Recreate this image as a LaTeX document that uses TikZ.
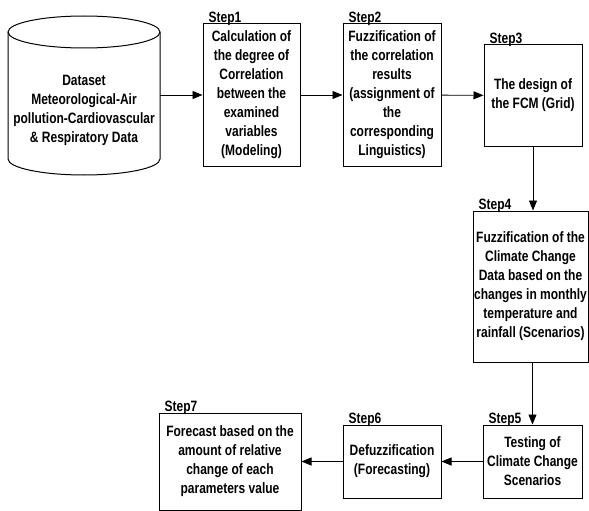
\documentclass[tikz,border=0pt]{standalone}
\usepackage{fontspec}
\setmainfont{Liberation Sans}[FakeStretch=0.8]
\usetikzlibrary{arrows.meta}
\begin{document}
\begin{tikzpicture}[x=1pt, y=-1pt,
    every node/.style={font=\bfseries\fontsize{15}{19}\selectfont},
    stepbox/.style={draw, line width=1pt, align=center, inner sep=0pt},
    steplabel/.style={anchor=south west, inner sep=0pt},
    flow/.style={line width=0.9pt, -{Triangle[length=10pt,width=8pt]}}]
  \useasboundingbox (0,0) rectangle (589,511);
  % Datenbasis (Zylinder)
  \draw[line width=1pt] (8,32) -- (8,159)
    arc[start angle=180, end angle=0, x radius=76, y radius=16] -- (160,32);
  \draw[line width=1pt] (84,32) ellipse[x radius=76, y radius=16];
  \node[align=center, inner sep=0pt, minimum width=152pt] (data) at (84,110)
        {Dataset\\Meteorological-Air\\pollution-Cardiovascular\\\& Respiratory Data};
  % Schritte
  \node[stepbox, minimum width=97pt, minimum height=142pt] (s1) at (251.5,95)
        {Calculation of\\the degree of\\Correlation\\between the\\examined\\variables\\(Modeling)};
  \node[stepbox, minimum width=98pt, minimum height=142pt] (s2) at (392,95)
        {Fuzzification of\\the correlation\\results\\(assignment of\\the\\corresponding\\Linguistics)};
  \node[stepbox, minimum width=98pt, minimum height=101pt] (s3) at (533,95.5)
        {The design of\\the FCM (Grid)};
  \node[stepbox, minimum width=115pt, minimum height=151pt] (s4) at (530.5,286.5)
        {Fuzzification of the\\Climate Change\\Data based on the\\changes in monthly\\temperature and\\rainfall (Scenarios)};
  \node[stepbox, minimum width=99pt, minimum height=73pt] (s5) at (532.5,461.5)
        {Testing of\\Climate Change\\Scenarios};
  \node[stepbox, minimum width=98pt, minimum height=73pt] (s6) at (392,461.5)
        {Defuzzification\\(Forecasting)};
  \node[stepbox, minimum width=142pt, minimum height=97pt] (s7) at (230,461.5)
        {Forecast based on the\\amount of relative\\change of each\\parameters value};
  % Beschriftungen
  \foreach \s/\lab in {s1/Step1, s2/Step2, s3/Step3, s4/Step4, s5/Step5, s6/Step6, s7/Step7}{
    \node[steplabel] (l\s) at ([xshift=6pt, yshift=-2pt]\s.north west) {\lab};
  }
  % Pfeile
  \draw[flow] (data.east |- s1.west) -- (s1.west);
  \draw[flow] (s1) -- (s2);
  \draw[flow] (s2) -- (s3);
  \draw[flow] (s3.south) -- (s3.south |- s4.north);
  \draw[flow] (s5.north |- s4.south) -- (s5.north);
  \draw[flow] (s5) -- (s6);
  \draw[flow] (s6) -- (s7);
\end{tikzpicture}
\end{document}
